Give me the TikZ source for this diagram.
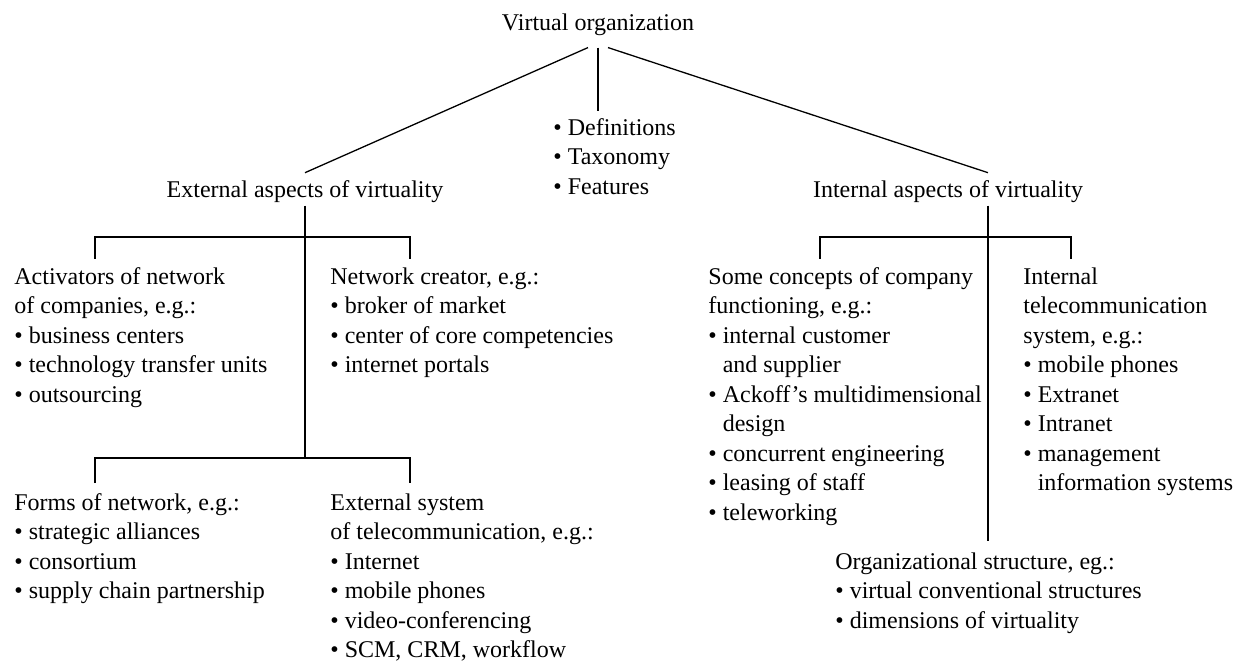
\documentclass[tikz,border=0pt]{standalone}
\usepackage{fontspec}
\setmainfont{Liberation Serif}
\usepackage{tikz}
\usetikzlibrary{positioning,calc}
\newcommand{\indentitem}{\hphantom{\textbullet\ }}

\begin{document}
\begin{tikzpicture}[
  x=0.5pt,y=-0.5pt,
  every node/.style={font=\fontsize{12}{14.75}\selectfont,inner sep=1pt},
  head/.style={anchor=base},
  list/.style={anchor=north west,align=left},
  link/.style={draw=black,line width=0.65pt}
]
\useasboundingbox (0,0) rectangle (1247,662);
\node[head] (root) at (598,31) {Virtual organization};
\node[list] (defs) at (551,116) {• Definitions\\• Taxonomy\\• Features};
\node[head] (ext) at (305,198) {External aspects of virtuality};
\node[head] (int) at (948,198) {Internal aspects of virtuality};
\node[list] (act) at (12,265) {Activators of network\\of companies, e.g.:\\• business centers\\• technology transfer units\\• outsourcing};
\node[list] (net) at (328,265) {Network creator, e.g.:\\• broker of market\\• center of core competencies\\• internet portals};
\node[list] (forms) at (12,491) {Forms of network, e.g.:\\• strategic alliances\\• consortium\\• supply chain partnership};
\node[list] (extsys) at (328,491) {External system\\of telecommunication, e.g.:\\• Internet\\• mobile phones\\• video-conferencing\\• SCM, CRM, workflow};
\node[list] (concepts) at (706,265) {Some concepts of company\\functioning, e.g.:\\• internal customer\\\indentitem and supplier\\• Ackoff’s multidimensional\\\indentitem design\\• concurrent engineering\\• leasing of staff\\• teleworking};
\node[list] (inttel) at (1021,265) {Internal\\telecommunication\\system, e.g.:\\• mobile phones\\• Extranet\\• Intranet\\• management\\\indentitem information systems};
\node[list] (orgstr) at (833,550) {Organizational structure, eg.:\\• virtual conventional structures\\• dimensions of virtuality};
% junctions of the tree brackets
\coordinate (el1) at (95,237);
\coordinate (er1) at (410,237);
\coordinate (el2) at (95,458);
\coordinate (em2) at (305,458);
\coordinate (er2) at (410,458);
\coordinate (il) at (820,237);
\coordinate (im) at (988,237);
\coordinate (ir) at (1071,237);
\draw[link] ([xshift=-5pt,yshift=-4.5pt]root.south) -- ([yshift=3pt]ext.north);
\draw[link] ([yshift=-4.5pt]root.south) -- ([yshift=2.5pt]root.south |- defs.north);
\draw[link] ([xshift=5pt,yshift=-4.5pt]root.south) -- ([yshift=3pt]int.north -| im);
\draw[link] (ext.south) -- (em2);
\draw[link] ([yshift=3pt]act.north -| el1) -- (el1) -- (er1) -- ([yshift=3pt]net.north -| er1);
\draw[link] ([yshift=4pt]forms.north -| el2) -- (el2) -- (er2) -- ([yshift=4pt]extsys.north -| er2);
\draw[link] (int.south -| im) -- ([yshift=4.5pt]orgstr.north -| im);
\draw[link] ([yshift=3pt]concepts.north -| il) -- (il) -- (ir) -- ([yshift=3pt]inttel.north -| ir);
\end{tikzpicture}
\end{document}
